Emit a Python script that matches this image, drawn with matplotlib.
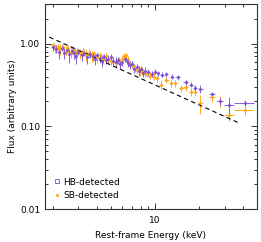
import numpy as np
import matplotlib
matplotlib.use("Agg")
import matplotlib.pyplot as plt
from matplotlib.lines import Line2D
from matplotlib.ticker import LogLocator, NullFormatter, FixedLocator, FixedFormatter

# HB-detected stack (purple)
hb_e = [2.00, 2.10, 2.20, 2.30, 2.40, 2.50, 2.60, 2.70, 2.80, 2.90,
        3.00, 3.15, 3.30, 3.45, 3.60, 3.75, 3.90, 4.05, 4.20, 4.35,
        4.50, 4.65, 4.80, 5.00, 5.20, 5.40, 5.60, 5.80, 6.00, 6.20,
        6.40, 6.60, 6.80, 7.00, 7.25, 7.50, 7.75, 8.00, 8.30, 8.60,
        9.00, 9.50, 10.0, 10.5, 11.2, 12.0, 13.0, 14.3, 16.2, 17.6,
        18.8, 20.5, 24.6, 27.9, 32.1, 41.3]
hb_f = [0.90, 0.86, 0.80, 0.88, 0.78, 0.84, 0.74, 0.82, 0.76, 0.70,
        0.79, 0.72, 0.77, 0.68, 0.74, 0.70, 0.66, 0.72, 0.67, 0.62,
        0.69, 0.64, 0.66, 0.68, 0.62, 0.60, 0.63, 0.57, 0.60, 0.66,
        0.62, 0.58, 0.55, 0.56, 0.50, 0.52, 0.47, 0.49, 0.44, 0.47,
        0.45, 0.43, 0.46, 0.44, 0.42, 0.43, 0.40, 0.39, 0.34, 0.32,
        0.29, 0.285, 0.243, 0.202, 0.179, 0.191]
hb_ferr = [0.08, 0.10, 0.14, 0.07, 0.12, 0.08, 0.15, 0.07, 0.10, 0.13,
           0.07, 0.11, 0.06, 0.12, 0.07, 0.09, 0.11, 0.06, 0.08, 0.10,
           0.06, 0.08, 0.06, 0.06, 0.07, 0.08, 0.06, 0.07, 0.06, 0.06,
           0.05, 0.06, 0.06, 0.05, 0.06, 0.05, 0.06, 0.05, 0.05, 0.05,
           0.04, 0.04, 0.03, 0.03, 0.03, 0.03, 0.03, 0.03, 0.025, 0.025,
           0.03, 0.03, 0.02, 0.02, 0.05, 0.015]
hb_eerr = [0.05, 0.05, 0.05, 0.05, 0.05, 0.05, 0.05, 0.05, 0.05, 0.05,
           0.07, 0.07, 0.07, 0.07, 0.07, 0.07, 0.07, 0.07, 0.07, 0.07,
           0.07, 0.07, 0.1, 0.1, 0.1, 0.1, 0.1, 0.1, 0.1, 0.1,
           0.1, 0.1, 0.1, 0.12, 0.12, 0.12, 0.12, 0.15, 0.15, 0.15,
           0.2, 0.2, 0.25, 0.25, 0.3, 0.35, 0.4, 0.5, 0.6, 0.6,
           0.7, 0.8, 1.0, 1.3, 2.6, 6.5]

# SB-detected stack (orange)
sb_e = [2.00, 2.08, 2.16, 2.25, 2.35, 2.45, 2.55, 2.65, 2.75, 2.85,
        2.95, 3.10, 3.25, 3.40, 3.55, 3.70, 3.85, 4.00, 4.20, 4.40,
        4.60, 4.80, 5.00, 5.20, 5.45, 5.70, 5.95, 6.15, 6.35, 6.55,
        6.80, 7.05, 7.30, 7.60, 7.90, 8.20, 8.50, 8.90, 9.30, 9.80,
        10.4, 11.1, 12.0, 12.8, 13.7, 15.2, 16.2, 17.6, 18.8, 20.5,
        24.6, 27.9, 32.1, 41.3]
sb_f = [0.95, 0.88, 0.92, 0.85, 0.90, 0.82, 0.87, 0.80, 0.84, 0.78,
        0.81, 0.76, 0.80, 0.73, 0.77, 0.71, 0.74, 0.69, 0.72, 0.66,
        0.70, 0.64, 0.62, 0.60, 0.59, 0.63, 0.66, 0.71, 0.72, 0.64,
        0.56, 0.53, 0.50, 0.48, 0.46, 0.47, 0.44, 0.43, 0.41, 0.40,
        0.38, 0.32, 0.36, 0.33, 0.33, 0.29, 0.30, 0.26, 0.26, 0.19,
        0.229, 0.20, 0.136, 0.156]
sb_ferr = [0.10, 0.12, 0.08, 0.13, 0.09, 0.12, 0.08, 0.13, 0.09, 0.12,
           0.08, 0.11, 0.08, 0.12, 0.08, 0.11, 0.07, 0.10, 0.07, 0.09,
           0.07, 0.08, 0.07, 0.07, 0.07, 0.06, 0.06, 0.07, 0.06, 0.07,
           0.06, 0.05, 0.05, 0.05, 0.05, 0.05, 0.04, 0.04, 0.04, 0.04,
           0.04, 0.04, 0.03, 0.03, 0.03, 0.03, 0.03, 0.03, 0.03, 0.05,
           0.03, 0.03, 0.02, 0.02]
sb_eerr = [0.04, 0.04, 0.04, 0.04, 0.05, 0.05, 0.05, 0.05, 0.05, 0.05,
           0.06, 0.07, 0.07, 0.07, 0.07, 0.07, 0.07, 0.08, 0.08, 0.08,
           0.08, 0.08, 0.1, 0.1, 0.12, 0.12, 0.12, 0.1, 0.1, 0.1,
           0.12, 0.12, 0.12, 0.15, 0.15, 0.15, 0.15, 0.2, 0.2, 0.25,
           0.3, 0.35, 0.4, 0.4, 0.5, 0.6, 0.6, 0.6, 0.7, 0.8,
           1.0, 1.3, 2.6, 6.5]

# reference power law (dashed)
pl_e = [1.9, 38.0]
pl_norm = 2.0
pl_slope = -0.8

purple = "#7b4fd6"
orange = "#ffa81c"

plt.rcParams['font.family'] = ['DejaVu Sans']
plt.rcParams['font.size'] = 6.5

fig = plt.figure(figsize=(2.61, 2.42), dpi=100)
ax = fig.add_axes([0.172, 0.136, 0.813, 0.847])

ax.errorbar(sb_e, sb_f, yerr=sb_ferr, xerr=sb_eerr, fmt='o', ms=2.2,
            color=orange, ecolor=orange, elinewidth=0.7, capsize=0, mew=0)
ax.errorbar(hb_e, hb_f, yerr=hb_ferr, xerr=hb_eerr, fmt='o', ms=2.2,
            color=purple, ecolor=purple, elinewidth=0.7, capsize=0, mew=0, alpha=0.9)

pl_x = np.array(pl_e)
ax.plot(pl_x, pl_norm * pl_x ** pl_slope, color='black', ls=(0, (4, 3)), lw=0.8)

ax.set_xscale('log')
ax.set_yscale('log')
ax.set_xlim(1.77, 50)
ax.set_ylim(0.01, 3)

ax.xaxis.set_major_locator(FixedLocator([10]))
ax.xaxis.set_major_formatter(FixedFormatter(['10']))
ax.xaxis.set_minor_locator(LogLocator(base=10, subs=np.arange(2, 10)))
ax.xaxis.set_minor_formatter(NullFormatter())
ax.yaxis.set_major_locator(FixedLocator([0.01, 0.1, 1.0]))
ax.yaxis.set_major_formatter(FixedFormatter(['0.01', '0.10', '1.00']))
ax.yaxis.set_minor_locator(LogLocator(base=10, subs=np.arange(2, 10)))
ax.yaxis.set_minor_formatter(NullFormatter())

ax.tick_params(which='both', direction='in', top=True, right=True, width=0.7, color='#333333')
ax.tick_params(which='major', length=4)
ax.tick_params(which='minor', length=2)
ax.tick_params(axis='x', pad=5)
for s in ax.spines.values():
    s.set_linewidth(0.8)
    s.set_color('#333333')

ax.set_xlabel('Rest-frame Energy (keV)', labelpad=4)
ax.set_ylabel('Flux (arbitrary units)', labelpad=2)

handles = [Line2D([], [], ls='none', marker='s', ms=2.2, mfc='none', mec=purple, mew=0.6),
           Line2D([], [], ls='none', marker='o', ms=2.2, mfc=orange, mec=orange, mew=0)]
ax.legend(handles, ['HB-detected', 'SB-detected'], loc='lower left', frameon=False,
          handlelength=0.6, handletextpad=0.4, borderaxespad=0.6, labelspacing=0.5,
          fontsize=6.5)

fig.savefig('out.png', dpi=100)
